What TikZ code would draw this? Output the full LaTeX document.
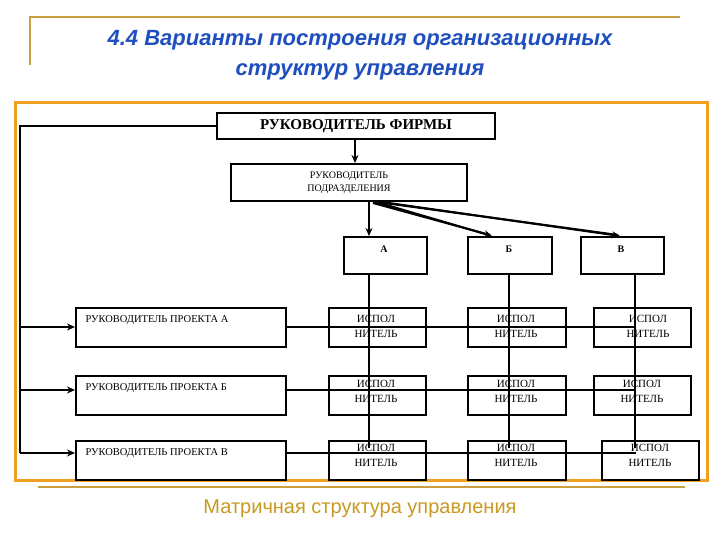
\documentclass[tikz,border=0pt]{standalone}
\usepackage{fontspec}
\setmainfont{Liberation Serif}
\newfontfamily\ttl{Liberation Sans}
\usetikzlibrary{arrows.meta}
\definecolor{ttlblue}{HTML}{1F4FBF}
\definecolor{frameor}{HTML}{F0A020}
\definecolor{goldline}{HTML}{C8A040}
\definecolor{goldtxt}{HTML}{C89A20}
\tikzset{
 bx/.style={draw, line width=2pt, minimum width=#1, inner sep=0pt, align=center, font=\fontsize{10}{10}\selectfont},
 ln/.style={line width=2pt},
 ar/.style={line width=2pt, -{Stealth[length=8pt,width=7pt]}},
}
\begin{document}
\begin{tikzpicture}[x=1pt,y=-1pt]
\useasboundingbox (0,0) rectangle (720,540);
\fill[white] (0,0) rectangle (720,540);
% title
\draw[goldline, line width=1.5pt] (30,65) -- (30,17) -- (680,17);
\node[text=ttlblue, font=\ttl\bfseries\itshape\fontsize{22}{30}\selectfont, align=center] (title) at (360,55) {4.4 Варианты построения организационных\\структур управления};
% frame
\draw[frameor, line width=3pt] (15,103) rectangle (707,480);
\draw[goldline, line width=2.5pt] (38,487) -- (685,487);
\node[text=goldtxt, font=\ttl\fontsize{20}{24}\selectfont] (cap) at (360,509) {Матричная структура управления};
% top nodes
\node[bx=278pt, minimum height=26pt, font=\bfseries\fontsize{15}{15}\selectfont] (firm) at (356,126) {РУКОВОДИТЕЛЬ ФИРМЫ};
\node[bx=236pt, minimum height=37pt, font=\fontsize{10}{13}\selectfont] (podr) at (349,182.5) {РУКОВОДИТЕЛЬ\\ПОДРАЗДЕЛЕНИЯ};
\node[bx=83pt, minimum height=37pt, anchor=north west] (A) at (343,236) {};
\node[bx=84pt, minimum height=37pt, anchor=north west] (B) at (467,236) {};
\node[bx=83pt, minimum height=37pt, anchor=north west] (V) at (580,236) {};
\node[font=\bfseries\fontsize{10}{10}\selectfont] (tA) at (384,249) {А};
\node[font=\bfseries\fontsize{10}{10}\selectfont] (tB) at (509,249) {Б};
\node[font=\bfseries\fontsize{10}{10}\selectfont] (tV) at (621,249) {В};
% project nodes
\foreach \n/\y/\t in {pa/307/А, pb/375/Б, pc/440/В}{
 \node[bx=210pt, minimum height=39pt, anchor=north west] (\n) at (75,\y) {};
 \node[anchor=west, font=\fontsize{10.5}{10}\selectfont] (\n t) at (82,\y+13) {РУКОВОДИТЕЛЬ ПРОЕКТА \t};
}
% executors
\foreach \r/\y in {1/307, 2/375, 3/440}{
 \node[bx=97pt, minimum height=39pt, anchor=north west] (e\r a) at (328,\y) {};
 \node[bx=98pt, minimum height=39pt, anchor=north west] (e\r b) at (467,\y) {};
}
\node[bx=97pt, minimum height=39pt, anchor=north west] (e1c) at (593,307) {};
\node[bx=97pt, minimum height=39pt, anchor=north west] (e2c) at (593,375) {};
\node[bx=97pt, minimum height=39pt, anchor=north west] (e3c) at (601,440) {};
% connectors
\draw[ar] (firm.south -| 355,0) -- (podr.north -| 355,0);
\draw[ar] (369,201) -- (A.north -| 369,0);
\draw[ar] (373,201) -- (492,236);
\draw[ar] (375,201) -- (620,236);
\draw[ln] (373,203) -- (490,235);
\draw[ln] (377,202) -- (618,235);
\draw[ln] (A.south -| 369,0) -- (369,448);
\draw[ln] (B.south -| 509,0) -- (509,448);
\draw[ln] (V.south -| 635,0) -- (635,448);
\draw[ln] (pa.east |- 0,327) -- (636,327);
\draw[ln] (pb.east |- 0,390) -- (636,390);
\draw[ln] (pc.east |- 0,453) -- (636,453);
\draw[ln] (firm.west) -- (20,126) -- (20,453);
\draw[ar] (20,327) -- (pa.west |- 0,327);
\draw[ar] (20,390) -- (pb.west |- 0,390);
\draw[ar] (20,453) -- (pc.west |- 0,453);
% executor labels on top
\foreach \x/\y/\n in {376/326/l1a, 516/326/l1b, 648/326/l1c, 376/391/l2a, 516/391/l2b, 642/391/l2c, 376/455/l3a, 516/455/l3b, 650/455/l3c}{
 \node[font=\fontsize{11}{15}\selectfont, align=center] (\n) at (\x,\y) {ИСПОЛ\\НИТЕЛЬ};
}
\end{tikzpicture}
\end{document}
